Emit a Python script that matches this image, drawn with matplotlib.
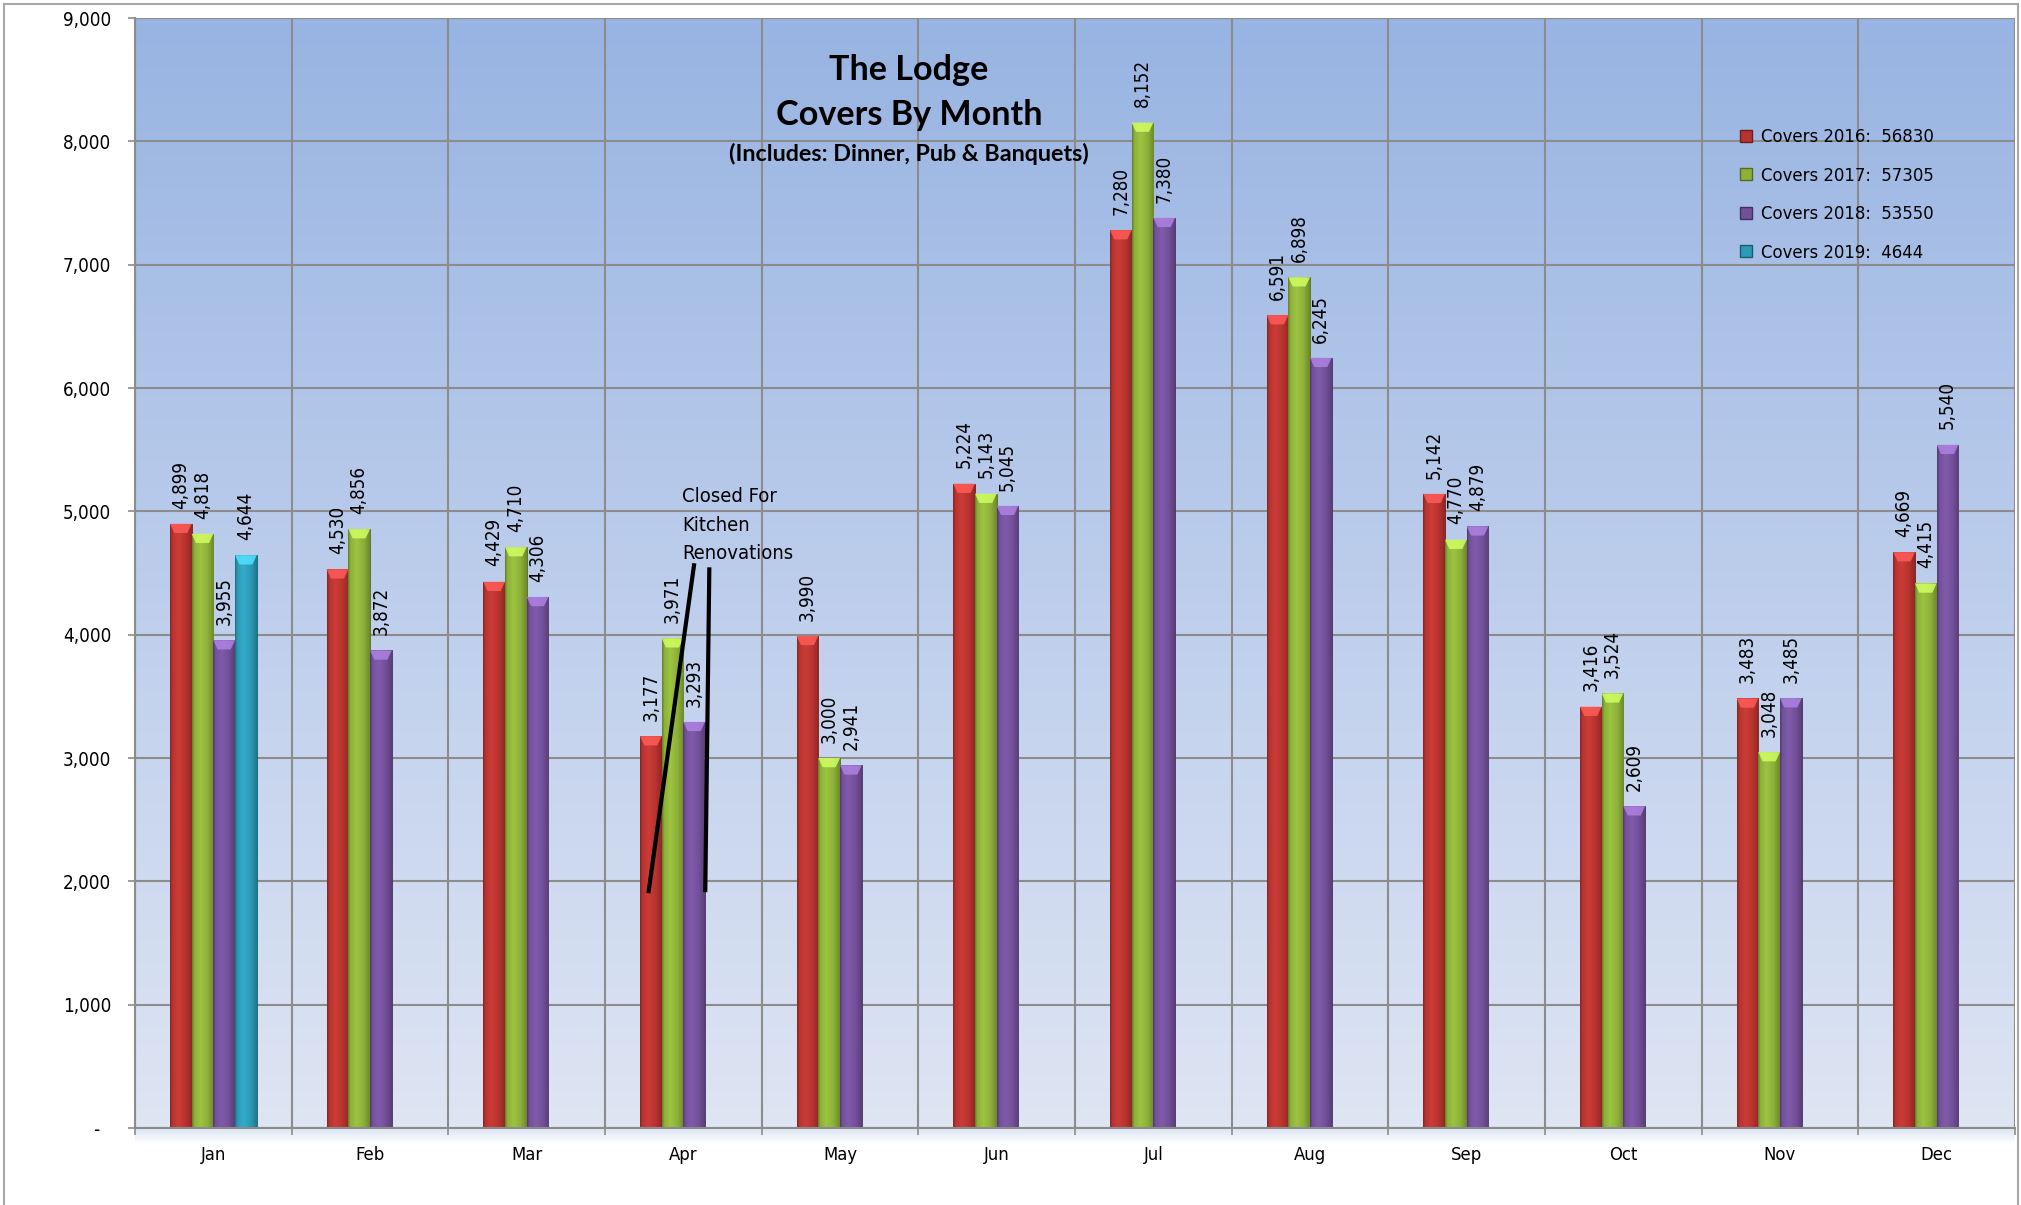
import numpy as np
import matplotlib
matplotlib.use("Agg")
import matplotlib.pyplot as plt
from matplotlib.colors import LinearSegmentedColormap, to_rgb
from matplotlib.patches import Rectangle, Polygon
from matplotlib.lines import Line2D

# ---------------- data ----------------
months = ["Jan", "Feb", "Mar", "Apr", "May", "Jun", "Jul", "Aug", "Sep", "Oct", "Nov", "Dec"]
years = ["2016", "2017", "2018", "2019"]
covers_2016 = [4899, 4530, 4429, 3177, 3990, 5224, 7280, 6591, 5142, 3416, 3483, 4669]
covers_2017 = [4818, 4856, 4710, 3971, 3000, 5143, 8152, 6898, 4770, 3524, 3048, 4415]
covers_2018 = [3955, 3872, 4306, 3293, 2941, 5045, 7380, 6245, 4879, 2609, 3485, 5540]
covers_2019 = [4644]
series = [covers_2016, covers_2017, covers_2018, covers_2019]
y_ticks = [0, 1000, 2000, 3000, 4000, 5000, 6000, 7000, 8000, 9000]

title_lines = ["The Lodge", "Covers By Month"]
subtitle = "(Includes: Dinner, Pub & Banquets)"
note_lines = ["Closed For", "Kitchen", "Renovations"]
note_anchor = (2.99, 5073)
note_strokes = [[(2.777, 1904), (3.07, 4579)], [(3.14, 1912), (3.166, 4546)]]

colors = ["#B8332F", "#8DB038", "#73509A", "#2B9AB6"]

plt.rcParams['font.family'] = ['DejaVu Sans']
plt.rcParams['font.stretch'] = 'condensed'

W, H = 2021, 1205
fig = plt.figure(figsize=(W / 100, H / 100), dpi=100)
ax = fig.add_axes([135 / W, 1 - 1128 / H, (2015 - 135) / W, (1128 - 18) / H])

# soft shadow strip below the plot area
sh = fig.add_axes([135 / W, 1 - 1144 / H, (2015 - 135) / W, 16 / H], zorder=-1)
sh.imshow(np.linspace(0, 1, 32).reshape(-1, 1), aspect="auto",
          cmap=LinearSegmentedColormap.from_list("sh", ["#FFFFFF", "#DCE4F2"]),
          origin="lower", interpolation="bicubic")
sh.set_axis_off()

# background gradient (light at bottom, deeper blue at top)
grad = np.linspace(0, 1, 256).reshape(-1, 1)
bg_cmap = LinearSegmentedColormap.from_list("bg", ["#DEE5F3", "#BCCDEC", "#98B4E2"])
ax.imshow(grad, aspect="auto", cmap=bg_cmap, extent=[-0.5, 11.5, 0, 9000],
          origin="lower", zorder=0, interpolation="bicubic")

ax.set_xlim(-0.5, 11.5)
ax.set_ylim(0, 9000)

w = 0.1385
x = np.arange(len(months))


def shade(color):
    c = np.array(to_rgb(color))
    dark = c * 0.7
    light = np.clip(c * 1.08 + 0.02, 0, 1)
    return LinearSegmentedColormap.from_list(
        "s", [(0, dark), (0.1, c), (0.38, light), (0.72, c), (1, c * 0.78)])


profile = np.linspace(0, 1, 64).reshape(1, -1)
for k, (vals, col) in enumerate(zip(series, colors)):
    xs = x[:len(vals)] + (k - 1.5) * w
    bars = ax.bar(xs, vals, width=w, color=col, edgecolor=np.array(to_rgb(col)) * 0.6,
                  linewidth=0.6, zorder=2)
    cm = shade(col)
    for p in bars:
        x0, wd, ht = p.get_x(), p.get_width(), p.get_height()
        im = ax.imshow(profile, aspect="auto", cmap=cm, extent=[x0, x0 + wd, 0, ht],
                       zorder=2.1, interpolation="bilinear")
        im.set_clip_path(p)
        bev = 75
        tri = Polygon([(x0, ht), (x0 + wd, ht), (x0 + wd * 0.8, ht - bev), (x0 + wd * 0.2, ht - bev)],
                      closed=True, facecolor=np.clip(np.array(to_rgb(col)) * 1.3 + 0.1, 0, 1),
                      edgecolor="none", alpha=0.85, zorder=2.2)
        ax.add_patch(tri)
    for xi, v in zip(xs, vals):
        ax.annotate(f"{v:,}", (xi, v), xytext=(0, 11), textcoords="offset points",
                    rotation=90, ha="center", va="bottom", fontsize=13.5, color="black", zorder=5)

# grid and axes
ax.set_axisbelow(True)
ax.set_yticks(y_ticks)
ax.set_yticklabels([f"{t:,}" if t else "-  " for t in y_ticks])
ax.set_xticks(x)
ax.set_xticklabels(months)
ax.set_xticks(np.arange(-0.5, 12, 1), minor=True)
ax.grid(True, axis="y", color="#8C8C8C", linewidth=1.5, zorder=1)
ax.grid(True, axis="x", which="minor", color="#8C8C8C", linewidth=1.5, zorder=1)
ax.grid(False, axis="x", which="major")
ax.tick_params(axis="y", length=5, width=1.2, color="#8C8C8C", pad=12, labelsize=13.5)
ax.tick_params(axis="x", which="major", length=0, pad=13, labelsize=13.2)
ax.tick_params(axis="x", which="minor", length=5, width=1.2, color="#8C8C8C")
for s in ["top", "right"]:
    ax.spines[s].set_visible(False)
for s in ["left", "bottom"]:
    ax.spines[s].set_color("#8C8C8C")
    ax.spines[s].set_linewidth(1.5)

# annotation
for i, line in enumerate(note_lines):
    ax.annotate(line, note_anchor, xytext=(0, -20.5 * i), textcoords="offset points",
                ha="left", va="baseline", fontsize=14.5, zorder=6)
for stroke in note_strokes:
    (xa, ya), (xb, yb) = stroke
    ax.plot([xa, xb], [ya, yb], color="black", linewidth=3, zorder=6, solid_capstyle="butt")

# legend
handles = [Line2D([], [], linestyle="none", marker="s", markersize=9,
                  markerfacecolor=c, markeredgecolor=np.array(to_rgb(c)) * 0.6)
           for c in colors]
labels = [f"Covers {y}:  {sum(v)}" for y, v in zip(years, series)]
ax.legend(handles, labels, loc="upper left", bbox_to_anchor=((1741 - 135) / 1880, 1 - (128 - 18) / 1110),
          frameon=False, fontsize=13.2, handlelength=0.6, handletextpad=0.5,
          labelspacing=1.12, borderaxespad=0, borderpad=0)

# titles
tfam = ["Lato", "DejaVu Sans"]
fig.text(909 / W, 1 - 80 / H, title_lines[0], ha="center", va="baseline",
         fontsize=24.6, fontweight="bold", family=tfam, fontstretch="normal")
fig.text(909 / W, 1 - 125 / H, title_lines[1], ha="center", va="baseline",
         fontsize=24.6, fontweight="bold", family=tfam, fontstretch="normal")
fig.text(909 / W, 1 - 161 / H, subtitle, ha="center", va="baseline",
         fontsize=16.8, fontweight="bold", family=tfam, fontstretch="normal")

# outer frame
fig.patches.append(Rectangle((4 / W, -0.01), (2018 - 4) / W, 1 - 4 / H + 0.01,
                             transform=fig.transFigure, fill=False,
                             edgecolor="#A6A6A6", linewidth=1.5))

fig.savefig("out.png", dpi=100)
